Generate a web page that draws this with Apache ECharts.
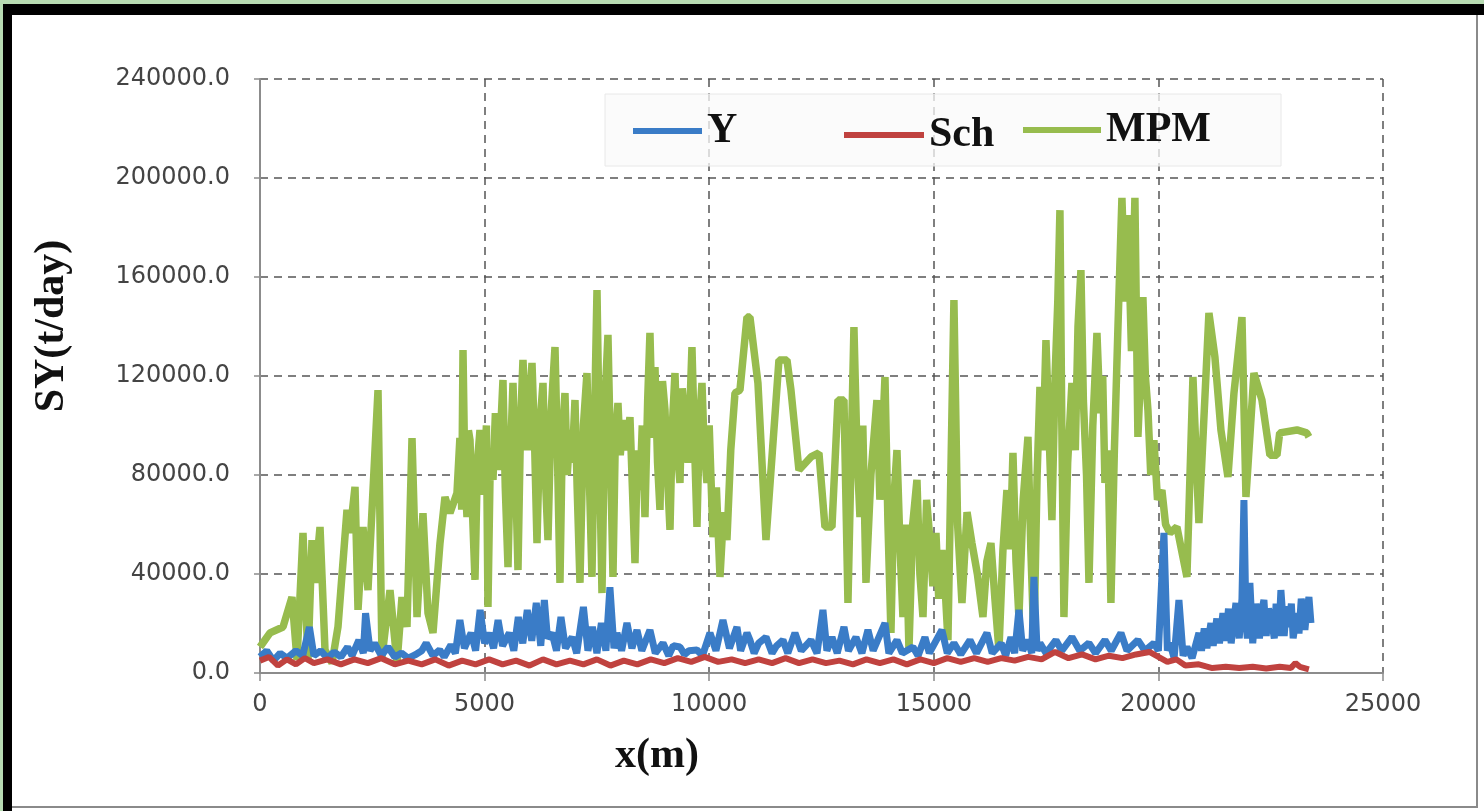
<!DOCTYPE html>
<html>
<head>
<meta charset="utf-8">
<title>SY chart</title>
<script src="https://cdn.jsdelivr.net/npm/echarts@6/dist/echarts.min.js"></script>
<style>
    html, body {
        margin: 0;
        padding: 0;
        background: #ffffff;
        overflow: hidden;
    }
    .frame-top {
        position: absolute; left: 0; top: 0; width: 1484px; height: 4px; background: #b7dbb2;
    }
    .frame-left {
        position: absolute; left: 0; top: 0; width: 3px; height: 811px; background: #b7dbb2;
    }
    .black-top {
        position: absolute; left: 3px; top: 4px; width: 1481px; height: 11px; background: #000;
    }
    .black-left {
        position: absolute; left: 3px; top: 4px; width: 9px; height: 807px; background: #000;
    }
    .gray-right {
        position: absolute; left: 1476px; top: 15px; width: 2px; height: 793px; background: #8a8a8a;
    }
    .gray-bottom {
        position: absolute; left: 12px; top: 806px; width: 1466px; height: 2px; background: #8a8a8a;
    }
    #myEcharts {
        position: absolute; left: 0; top: 0; width: 1484px; height: 811px;
    }
</style>
</head>
<body>
<div class="frame-top"></div>
<div class="frame-left"></div>
<div class="black-top"></div>
<div class="black-left"></div>
<div class="gray-right"></div>
<div class="gray-bottom"></div>
<div id="myEcharts"></div>

<script>
// x positions (m) and sediment yield (t/day)
const mpmX = [
    0,223,512,712,824,957,1068,1158,1224,1336,1447,1603,1736,1937,2003,2115,2182,2293,2404,2627,2716,2894,3050,3161,3272,3384,3495,3628,3740,3851,4007,4118,4229,
    4385,4450,4490,4519,4560,4608,4640,4675,4720,4786,4840,4897,4950,5009,5040,5075,5130,5187,5240,5298,5350,5409,5460,5521,5580,5632,5690,5743,5800,5854,5950,6055,6110,6166,6230,6300,6350,6411,6480,6567,6620,6678,6730,6789,6840,6901,6950,7012,7060,7123,7200,7279,7330,7390,7450,7502,7560,7613,7680,7746,7800,7858,7910,7969,8020,8080,8150,8236,8290,8348,8400,8459,8510,8570,8630,8681,8740,8793,8850,8904,8960,9015,9070,9127,9180,9238,9290,9349,9400,9461,9530,9616,9670,9728,9780,9839,9890,9950,10000,10084,10160,10240,10320,10395,10480,10574,10685,10841,10907,
    11085,11264,11553,11731,11820,11998,12265,12443,12577,12733,12866,13000,
    13089,13222,13290,13356,13420,13490,13600,13734,13800,13913,13980,14046,14110,14180,14250,14313,14380,14447,14530,14625,14690,14759,14840,14914,14980,15048,15110,15181,15250,15315,15448,15530,15627,15740,15849,15970,16094,16180,16272,16360,16450,16540,16628,16700,16762,16830,
    16895,16990,17096,17160,17229,17300,17363,17430,17497,17560,17630,17700,17760,17808,17850,17897,17980,18075,18150,18210,18275,18330,18400,18454,18540,18632,18700,18760,18810,18880,18943,19020,19100,19188,19260,19320,19400,19477,19544,19600,19655,19710,19767,19830,19900,19980,20078,20160,20257,
    20412,20635,20769,20902,21125,21258,21392,21548,21682,21860,21949,22127,22305,22483,22639,22700,23084,23300,23351
];
const mpmY = [
    10500,16200,18600,30700,5300,56600,5300,53700,36400,59000,9300,4000,18600,65900,56600,75200,25500,59000,33500,114300,6500,33500,4000,30700,18600,94900,22600,64600,24200,16200,52500,71100,64600,
    72700,95000,66000,130500,80000,63000,98000,94100,70000,37600,85000,98200,72000,84800,100000,26700,90000,78000,105000,82000,95000,118400,75000,42800,90000,117200,80000,41600,100000,126500,90000,125300,95000,52500,100000,117200,80000,53700,105000,131700,90000,36400,95000,113100,80000,98200,85000,110300,75000,36400,100000,121200,80000,38800,105000,154700,85000,32300,110000,136600,90000,38800,95000,109100,88000,102200,90000,103400,75000,44400,90000,73900,100000,63000,110000,137400,95000,123600,85000,65900,118000,106300,80000,57800,100000,121200,90000,76800,115000,101000,85000,131700,95000,59000,100000,117200,90000,76800,100000,54900,75000,38800,65000,53700,90000,113100,114300,143800,143800,
    117200,53700,126500,126500,114300,82000,87300,88900,59000,59000,110300,110300,
    28300,139800,90000,63000,100000,36400,80000,110300,70000,119600,60000,16200,70000,90100,50000,22600,60000,9300,60000,78000,40000,22600,70000,53700,35000,56600,30000,49700,35000,13300,150700,60000,28300,65000,52500,40000,22600,45000,52500,30000,9300,50000,73900,50000,88900,45000,
    22600,70000,95400,50000,12100,80000,115600,90000,134500,100000,61800,120000,150000,187000,100000,22600,85000,117200,90000,140000,162800,110000,80000,36400,100000,137400,105000,120000,76800,90000,28300,90000,140000,192000,150000,185000,130000,192000,95400,120000,151900,120000,106300,80000,94100,70000,73900,60000,56600,
    59000,38800,119600,60600,145500,127700,98200,79200,113100,143800,71100,121200,110300,88000,88000,97000,98200,97000,95400
];

const yX = [
    0,150,300,450,600,800,950,1100,1200,1350,1500,1650,1800,1950,2050,2200,2300,2350,2450,2550,2700,2850,3000,3150,3300,3450,3600,3700,3850,4000,4100,4250,4350,4450,4550,4700,4800,4900,5000,5100,5200,5300,5400,5550,5650,5750,5850,5950,6050,6150,6250,6330,6400,6500,6600,6700,6800,6950,7050,7200,7300,7400,7500,7600,7700,7790,7880,7947,8050,8169,8280,8392,8500,8681,8800,8971,9100,9200,9349,9450,9550,9728,9850,10017,10150,10306,10450,10618,10700,10841,10907,11000,11100,11264,11400,11500,11642,11750,11909,12050,12265,12400,12532,12620,12733,12850,13000,13100,13267,13400,13534,13650,13913,14000,14180,14300,14536,14650,14803,14900,15181,15300,15448,15600,15805,15950,16183,16300,16500,16600,16717,16800,16895,16980,17096,17180,17229,17300,17363,17500,17719,17850,18075,18250,18454,18600,18810,18950,19166,19300,19544,19700,19900,20000,20123,20200,20257,20350,20457,20550,20635,20750,
    20902,20960,21020,21080,21169,21220,21300,21360,21436,21500,21560,21620,21726,21800,21860,21904,21950,21980,22037,22100,22171,22250,22300,22349,22400,22450,22527,22580,22620,22680,22727,22800,22850,22905,22960,23000,23084,23130,23180,23262,23300,23351,23396
];
const yY = [
    6500,9000,5000,8000,6000,9000,7000,18600,7000,9000,6000,8500,6500,10500,7000,13300,8000,24200,9000,12100,7000,10500,6500,8100,6000,7300,9000,12100,7000,9300,6500,11300,8000,21400,10000,16200,9000,25500,12000,16200,10000,21400,11000,16200,9000,22600,12000,25500,13000,28300,11000,29500,14000,16200,9000,22600,10000,14500,8000,26700,9000,18600,8000,20200,9000,34700,10000,16200,9000,20200,10000,17400,9000,17400,8000,12100,7000,11000,10500,7500,9000,9300,7000,16200,9000,21400,10000,18600,9000,16200,13300,8000,12000,14500,8000,11000,13300,8000,16200,9000,13300,8000,25500,9000,14500,8000,18600,9000,14500,8000,17400,9000,20200,8000,13300,8000,10500,7000,14500,8000,17400,8000,12100,7500,13300,8000,16200,8000,12000,7000,14500,8000,25500,9000,13300,8000,38800,9000,12100,8000,13300,9000,14500,9000,12100,8000,13300,9000,16200,9000,13300,9000,12100,9000,56600,9000,12100,6000,29500,7000,10500,6000,
    16200,9000,18000,10000,20200,11000,22000,12000,24200,13000,26000,12000,28300,14000,30000,69900,20000,14000,36400,12000,28000,14000,25000,29500,15000,26000,20200,14000,28000,15000,33500,15000,27000,18600,28000,14000,24200,16000,30000,17400,25000,30700,20200
];

const schX = [0,200,400,600,800,1000,1200,1500,1800,2100,2400,2700,3000,3300,3600,3900,4200,4500,4800,5100,5400,5700,6000,6300,6600,6900,7200,7500,7800,8100,8400,8700,9000,9300,9600,9900,10200,10500,10800,11100,11400,11700,12000,12300,12600,12900,13200,13500,13800,14100,14400,14700,15000,15300,15600,15900,16200,16500,16800,17100,17400,17700,18000,18300,18600,18900,19200,19500,19800,20000,20200,20400,20600,20900,21200,21500,21800,22100,22400,22700,22950,23050,23150,23350];
const schY = [5000,6500,3000,5500,3500,6000,4000,5500,3500,5500,4000,6000,3500,5000,3500,5500,3000,5000,3500,5500,3500,5000,3000,5500,3500,5000,3500,5500,3000,5000,3500,5500,4000,6000,4500,6500,4500,5500,4000,5500,4000,6000,4000,5500,4000,5000,3500,5500,4000,5500,3500,5500,4000,6000,4500,6000,4500,6000,5000,6500,5500,8500,6000,7500,5500,7000,6000,7500,8500,6500,4500,5500,3000,3500,2000,2500,2000,2500,1800,2500,2000,4000,2500,1500];

const xTicks = { min: 0, max: 25000, interval: 5000 };
const yTicks = { min: 0, max: 240000, interval: 40000 };

function zip(xs, ys) {
    return xs.map((x, i) => [x, ys[i]]);
}

const serif = '"Liberation Serif", "Times New Roman", serif';
const labelFont = '"DejaVu Sans", sans-serif';

function legendAt(name, left, top, width) {
    return {
        data: [name],
        left: left,
        top: top,
        padding: 0,
        itemWidth: width,
        itemHeight: 6,
        icon: 'rect',
        textStyle: {
            fontFamily: serif,
            fontWeight: 'bold',
            fontSize: 42,
            color: '#111'
        }
    };
}

const option = {
    animation: false,
    backgroundColor: 'transparent',
    grid: {
        left: 260,
        right: 101,
        top: 79,
        bottom: 138
    },
    legend: [
        legendAt('Y', 633, 110, 69),
        legendAt('Sch', 844, 114, 80),
        legendAt('MPM', 1023, 109, 78)
    ],
    graphic: [
        {
            type: 'rect',
            z: 1,
            shape: { x: 605, y: 94, width: 676, height: 72 },
            style: { fill: 'rgba(250,250,250,0.75)', stroke: '#e8e8e8', lineWidth: 1 }
        },
        {
            type: 'text',
            x: 52,
            y: 326,
            rotation: Math.PI / 2,
            style: {
                text: 'SY(t/day)',
                font: 'bold 42px ' + serif,
                fill: '#111',
                align: 'center',
                verticalAlign: 'middle'
            }
        },
        {
            type: 'text',
            x: 657,
            y: 756,
            style: {
                text: 'x(m)',
                font: 'bold 42px ' + serif,
                fill: '#111',
                align: 'center',
                verticalAlign: 'middle'
            }
        }
    ],
    xAxis: {
        type: 'value',
        min: xTicks.min,
        max: xTicks.max,
        interval: xTicks.interval,
        axisLine: { show: true, onZero: false, lineStyle: { color: '#8c8c8c', width: 2 } },
        axisTick: { show: true, length: 8, lineStyle: { color: '#8c8c8c', width: 1.5 } },
        axisLabel: {
            margin: 20,
            color: '#444',
            fontFamily: labelFont,
            fontSize: 24,
            formatter: v => String(v)
        },
        splitLine: { show: true, lineStyle: { color: '#555', width: 1.5, type: [8, 6] } }
    },
    yAxis: {
        type: 'value',
        min: yTicks.min,
        max: yTicks.max,
        interval: yTicks.interval,
        axisLine: { show: true, lineStyle: { color: '#8c8c8c', width: 2 } },
        axisTick: { show: true, length: 6, lineStyle: { color: '#8c8c8c', width: 1.5 } },
        axisLabel: {
            margin: 30,
            color: '#444',
            fontFamily: labelFont,
            fontSize: 24,
            formatter: v => v.toFixed(1)
        },
        splitLine: { show: true, lineStyle: { color: '#555', width: 1.5, type: [8, 6] } }
    },
    series: [
        {
            name: 'Y',
            type: 'line',
            z: 3,
            showSymbol: false,
            data: zip(yX, yY),
            color: '#3a7cc7',
            lineStyle: { width: 7, color: '#3a7cc7' }
        },
        {
            name: 'Sch',
            type: 'line',
            z: 4,
            showSymbol: false,
            data: zip(schX, schY),
            color: '#c0423f',
            lineStyle: { width: 6, color: '#c0423f' }
        },
        {
            name: 'MPM',
            type: 'line',
            z: 2,
            showSymbol: false,
            data: zip(mpmX, mpmY),
            color: '#97bc4e',
            lineStyle: { width: 7.5, color: '#97bc4e' }
        }
    ]
};

let chart = echarts.init(document.getElementById('myEcharts'));
chart.setOption(option);
</script>
</body>
</html>
